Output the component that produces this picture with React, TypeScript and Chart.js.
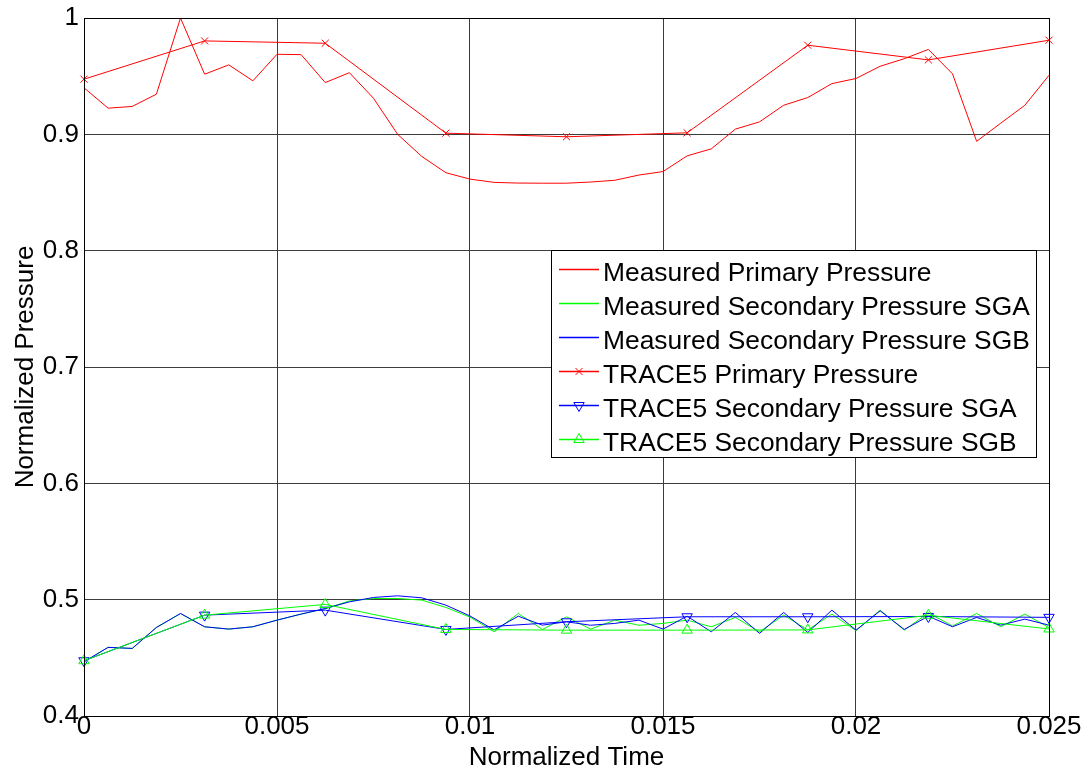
import React, { useEffect, useRef } from 'react';
import { Chart, registerables } from 'chart.js';

Chart.register(...registerables);

// ---- data ----
const timeMeasured = [
  0, 0.000625, 0.00125, 0.001875, 0.0025, 0.003125, 0.00375, 0.004375, 0.005, 0.005625,
  0.00625, 0.006875, 0.0075, 0.008125, 0.00875, 0.009375, 0.01, 0.010625, 0.01125, 0.011875,
  0.0125, 0.013125, 0.01375, 0.014375, 0.015, 0.015625, 0.01625, 0.016875, 0.0175, 0.018125,
  0.01875, 0.019375, 0.02, 0.020625, 0.02125, 0.021875, 0.0225, 0.023125, 0.02375, 0.024375,
  0.025,
];
const measuredPrimary = [
  0.94, 0.9225, 0.924, 0.9345, 1.0, 0.9517, 0.9597, 0.946, 0.9688, 0.9685,
  0.9445, 0.953, 0.931, 0.9, 0.881, 0.867, 0.8615, 0.8587, 0.8581, 0.858,
  0.858, 0.859, 0.8605, 0.865, 0.868, 0.8815, 0.8875, 0.9045, 0.9107, 0.925,
  0.9316, 0.9436, 0.948, 0.9585, 0.965, 0.973, 0.952, 0.894, 0.9096, 0.925,
  0.9508,
];
const measuredSGA = [
  0.4466, 0.459, 0.4581, 0.4761, 0.4881, 0.4767, 0.4747, 0.4767, 0.4824, 0.4876,
  0.4922, 0.4989, 0.501, 0.501, 0.4996, 0.4933, 0.485, 0.4724, 0.4881, 0.4744,
  0.4852, 0.4747, 0.4824, 0.478, 0.4796, 0.4824, 0.4767, 0.4847, 0.4724, 0.4867,
  0.474, 0.4876, 0.4733, 0.491, 0.4738, 0.4887, 0.4773, 0.4881, 0.4767, 0.4876,
  0.476,
];
const measuredSGB = [
  0.4466, 0.459, 0.4581, 0.4761, 0.4881, 0.4767, 0.4747, 0.4767, 0.4824, 0.4876,
  0.4924, 0.4981, 0.5019, 0.5033, 0.5016, 0.4953, 0.486, 0.474, 0.4858, 0.4781,
  0.481, 0.478, 0.4796, 0.4824, 0.4747, 0.4858, 0.4724, 0.489, 0.471, 0.489,
  0.4718, 0.491, 0.4738, 0.4904, 0.4744, 0.4858, 0.4767, 0.4847, 0.4781, 0.4833,
  0.4781,
];
const timeTrace = [0, 0.003125, 0.00625, 0.009375, 0.0125, 0.015625, 0.01875, 0.021875, 0.025];
const tracePrimary = [0.9474, 0.9803, 0.9783, 0.901, 0.8979, 0.9013, 0.9766, 0.964, 0.9809];
const traceSGA = [0.4475, 0.4867, 0.491, 0.4744, 0.481, 0.4853, 0.4853, 0.4855, 0.4848];
const traceSGB = [0.4475, 0.4867, 0.4959, 0.4744, 0.4738, 0.4738, 0.474, 0.4866, 0.4748];

const xTickValues = [0, 0.005, 0.01, 0.015, 0.02, 0.025];
const xTickLabels = ['0', '0.005', '0.01', '0.015', '0.02', '0.025'];
const yTickValues = [0.4, 0.5, 0.6, 0.7, 0.8, 0.9, 1];
const yTickLabels = ['0.4', '0.5', '0.6', '0.7', '0.8', '0.9', '1'];

const seriesLabels = [
  'Measured Primary Pressure',
  'Measured Secondary Pressure SGA',
  'Measured Secondary Pressure SGB',
  'TRACE5 Primary Pressure',
  'TRACE5 Secondary Pressure SGA',
  'TRACE5 Secondary Pressure SGB',
];
const seriesColors = ['#ff0000', '#00ff00', '#0000ff', '#ff0000', '#0000ff', '#00ff00'];
const seriesMarkers = ['none', 'none', 'none', 'cross', 'down', 'up'];

const xTitle = 'Normalized Time';
const yTitle = 'Normalized Pressure';

const FONT = '"Liberation Sans", Arial, Helvetica, sans-serif';

const pts = (xs: number[], ys: number[]) => xs.map((x, i) => ({ x, y: ys[i] }));

function drawMarker(ctx: CanvasRenderingContext2D, kind: string, x: number, y: number, color: string) {
  if (kind === 'none') return;
  ctx.save();
  ctx.strokeStyle = color;
  ctx.lineWidth = 1;
  ctx.beginPath();
  if (kind === 'cross') {
    const r = 3.5;
    ctx.moveTo(x - r, y - r);
    ctx.lineTo(x + r, y + r);
    ctx.moveTo(x - r, y + r);
    ctx.lineTo(x + r, y - r);
  } else {
    const r = 6;
    const s = kind === 'up' ? 1 : -1;
    ctx.moveTo(x, y - s * r);
    ctx.lineTo(x + r * 0.866, y + s * r * 0.5);
    ctx.lineTo(x - r * 0.866, y + s * r * 0.5);
    ctx.closePath();
  }
  ctx.stroke();
  ctx.restore();
}

const decorPlugin = {
  id: 'decor',
  afterDatasetsDraw(chart: any) {
    const { ctx, chartArea } = chart;
    ctx.save();
    ctx.strokeStyle = '#000';
    ctx.lineWidth = 1;
    ctx.strokeRect(
      Math.round(chartArea.left) + 0.5,
      Math.round(chartArea.top) + 0.5,
      Math.round(chartArea.right - chartArea.left),
      Math.round(chartArea.bottom - chartArea.top)
    );
    ctx.restore();
  },
  afterDraw(chart: any) {
    const { ctx, chartArea } = chart;
    ctx.save();
    // axis titles
    ctx.fillStyle = '#000';
    ctx.font = `26px ${FONT}`;
    ctx.textAlign = 'center';
    ctx.textBaseline = 'alphabetic';
    ctx.fillText(xTitle, (chartArea.left + chartArea.right) / 2, 765);
    ctx.save();
    ctx.translate(33, (chartArea.top + chartArea.bottom) / 2);
    ctx.rotate(-Math.PI / 2);
    ctx.fillText(yTitle, 0, 0);
    ctx.restore();
    ctx.restore();

    // legend box
    const bx = 551.5, by = 250.5, bw = 485, bh = 207;
    ctx.save();
    ctx.fillStyle = '#ffffff';
    ctx.fillRect(bx, by, bw, bh);
    ctx.strokeStyle = '#000000';
    ctx.lineWidth = 1;
    ctx.strokeRect(bx, by, bw, bh);
    ctx.restore();

    for (let k = 0; k < seriesLabels.length; k++) {
      const row = Math.round(269 + k * 33.9);
      ctx.save();
      ctx.strokeStyle = seriesColors[k];
      ctx.lineWidth = 1.5;
      ctx.beginPath();
      ctx.moveTo(559, row + 0.5);
      ctx.lineTo(599, row + 0.5);
      ctx.stroke();
      ctx.restore();
      drawMarker(ctx, seriesMarkers[k], 579, row + 0.5, seriesColors[k]);
      ctx.save();
      ctx.fillStyle = '#000000';
      ctx.font = `26.4px ${FONT}`;
      ctx.textAlign = 'left';
      ctx.textBaseline = 'alphabetic';
      ctx.fillText(seriesLabels[k], 603, row + 11.5);
      ctx.restore();
    }
  },
};

export default function App() {
  const canvasRef = useRef<HTMLCanvasElement | null>(null);

  useEffect(() => {
    const canvas = canvasRef.current;
    if (!canvas) return;
    const common = {
      borderWidth: 1,
      tension: 0,
      fill: false,
      clip: 10,
      pointHoverRadius: 0,
    };
    const chart = new Chart(canvas, {
      type: 'line',
      data: {
        datasets: [
          { ...common, label: seriesLabels[0], data: pts(timeMeasured, measuredPrimary), borderColor: seriesColors[0], pointRadius: 0, order: 5 },
          { ...common, label: seriesLabels[1], data: pts(timeMeasured, measuredSGA), borderColor: seriesColors[1], pointRadius: 0, order: 4 },
          { ...common, label: seriesLabels[2], data: pts(timeMeasured, measuredSGB), borderColor: seriesColors[2], pointRadius: 0, order: 3 },
          {
            ...common, label: seriesLabels[3], data: pts(timeTrace, tracePrimary), borderColor: seriesColors[3],
            pointStyle: 'crossRot', pointRadius: 5, pointHoverRadius: 5, pointBorderColor: seriesColors[3], pointBorderWidth: 1,
            pointBackgroundColor: 'rgba(0,0,0,0)', order: 2,
          },
          {
            ...common, label: seriesLabels[4], data: pts(timeTrace, traceSGA), borderColor: seriesColors[4],
            pointStyle: 'triangle', pointRotation: 180, pointRadius: 6, pointHoverRadius: 6, pointBorderColor: seriesColors[4], pointBorderWidth: 1,
            pointBackgroundColor: 'rgba(0,0,0,0)', order: 1,
          },
          {
            ...common, label: seriesLabels[5], data: pts(timeTrace, traceSGB), borderColor: seriesColors[5],
            pointStyle: 'triangle', pointRotation: 0, pointRadius: 6, pointHoverRadius: 6, pointBorderColor: seriesColors[5], pointBorderWidth: 1,
            pointBackgroundColor: 'rgba(0,0,0,0)', order: 0,
          },
        ] as any,
      },
      options: {
        animation: false,
        responsive: false,
        devicePixelRatio: 1,
        events: [],
        layout: { padding: { left: 0, right: 39, top: 17, bottom: 0 } },
        plugins: {
          legend: { display: false },
          tooltip: { enabled: false },
          title: { display: false },
        },
        scales: {
          x: {
            type: 'linear',
            min: 0,
            max: 0.025,
            afterBuildTicks: (scale: any) => {
              scale.ticks = xTickValues.map((v) => ({ value: v }));
            },
            afterFit: (scale: any) => {
              scale.height = 62;
            },
            ticks: {
              autoSkip: false,
              maxRotation: 0,
              minRotation: 0,
              padding: -2,
              color: '#000',
              font: { family: FONT, size: 26, lineHeight: 1 },
              callback: (_v: any, i: number) => xTickLabels[i],
            },
            grid: { color: '#3c3c3c', lineWidth: 1, drawTicks: false },
            border: { display: true, color: '#000', width: 1 },
          },
          y: {
            type: 'linear',
            min: 0.4,
            max: 1,
            afterBuildTicks: (scale: any) => {
              scale.ticks = yTickValues.map((v) => ({ value: v }));
            },
            afterFit: (scale: any) => {
              scale.width = 84;
            },
            ticks: {
              autoSkip: false,
              padding: 5,
              color: '#000',
              font: { family: FONT, size: 26, lineHeight: 1 },
              callback: (_v: any, i: number) => yTickLabels[i],
            },
            grid: { color: '#3c3c3c', lineWidth: 1, drawTicks: false },
            border: { display: true, color: '#000', width: 1 },
          },
        },
      } as any,
      plugins: [decorPlugin],
    });
    return () => chart.destroy();
  }, []);

  return (
    <div style={{ position: 'absolute', left: 0, top: 0, width: 1088, height: 778, background: '#fff' }}>
      <canvas ref={canvasRef} width={1088} height={778} style={{ display: 'block' }} />
    </div>
  );
}
